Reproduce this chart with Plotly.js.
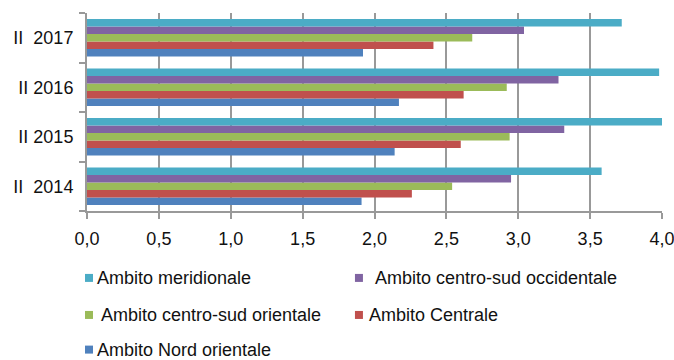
<!DOCTYPE html>
<html>
<head>
<meta charset="utf-8">
<script src="https://cdn.plot.ly/plotly-3.0.1.min.js"></script>
<style>
  html, body { margin: 0; padding: 0; background: #fff; }
  #chart { width: 674px; height: 360px; }
</style>
</head>
<body>
<div id="chart"></div>
<script>
// Categories (bottom to top)
const categories = ["II\u00a0\u00a02014", "II 2015", "II 2016", "II\u00a0\u00a02017"];

// Series values, per category (2014, 2015, 2016, 2017)
const nordOrientale     = [1.91, 2.14, 2.17, 1.92];
const centrale          = [2.26, 2.60, 2.62, 2.41];
const centroSudOrient   = [2.54, 2.94, 2.92, 2.68];
const centroSudOccid    = [2.95, 3.32, 3.28, 3.04];
const meridionale       = [3.58, 4.01, 3.98, 3.72];

// Series names
const seriesNames = [
  "Ambito meridionale",
  "Ambito centro-sud occidentale",
  "Ambito centro-sud orientale",
  "Ambito Centrale",
  "Ambito Nord orientale"
];

// X tick labels
const xTickVals = [0, 0.5, 1, 1.5, 2, 2.5, 3, 3.5, 4];
const xTickText = ["0,0", "0,5", "1,0", "1,5", "2,0", "2,5", "3,0", "3,5", "4,0"];

const seriesValues = [meridionale, centroSudOccid, centroSudOrient, centrale, nordOrientale];
const colors = ["#4BACC6", "#8064A2", "#9BBB59", "#C0504D", "#4F81BD"];

// Plot traces bottom-first so the first series sits on top of each group
const traces = [];
for (let i = seriesNames.length - 1; i >= 0; i--) {
  traces.push({
    type: "bar",
    orientation: "h",
    name: seriesNames[i],
    y: categories,
    x: seriesValues[i],
    marker: { color: colors[i], line: { width: 0 } },
    showlegend: false,
    hoverinfo: "x+name"
  });
}

// Manual legend layout (two columns, three rows)
const legendPos = [
  { sx: -0.0035, tx: 0.0139, y: -0.338 },
  { sx: 0.466,  tx: 0.497,  y: -0.338 },
  { sx: -0.0035, tx: 0.0209, y: -0.525 },
  { sx: 0.466,  tx: 0.487,  y: -0.525 },
  { sx: -0.0035, tx: 0.0139, y: -0.70 }
];
const shapes = [];
const annotations = [];
seriesNames.forEach((nm, i) => {
  const p = legendPos[i];
  shapes.push({
    type: "rect", xref: "paper", yref: "paper",
    x0: p.sx, x1: p.sx + 0.0139, y0: p.y - 0.0202, y1: p.y + 0.0202,
    fillcolor: colors[i], line: { width: 0 }
  });
  annotations.push({
    xref: "paper", yref: "paper", x: p.tx, y: p.y,
    xanchor: "left", yanchor: "middle", showarrow: false,
    text: nm, font: { size: 18, color: "#111" }
  });
});

const layout = {
  width: 674, height: 360,
  margin: { l: 87, r: 12, t: 13, b: 149 },
  paper_bgcolor: "#fff", plot_bgcolor: "#fff",
  font: { family: "Liberation Sans, Arial, sans-serif", size: 18, color: "#111" },
  barmode: "group",
  bargap: 0.245,
  bargroupgap: 0,
  showlegend: false,
  xaxis: {
    range: [0, 4],
    tickvals: xTickVals,
    ticktext: xTickText,
    showgrid: true, gridcolor: "#999", gridwidth: 2,
    zeroline: false,
    showline: true, linecolor: "#999", linewidth: 2,
    ticks: "outside", ticklen: 6, tickwidth: 2, tickcolor: "#999",
    ticklabelstandoff: 4,
    ticklabeloverflow: "allow",
    tickfont: { size: 18, color: "#111" },
    fixedrange: true
  },
  yaxis: {
    type: "category",
    showgrid: false,
    zeroline: false,
    showline: true, linecolor: "#999", linewidth: 2,
    ticks: "outside", tickson: "boundaries", ticklen: 6, tickwidth: 2, tickcolor: "#999",
    ticklabelstandoff: 8,
    tickfont: { size: 18, color: "#111" },
    fixedrange: true
  },
  shapes: shapes,
  annotations: annotations
};

Plotly.newPlot("chart", traces, layout, { displayModeBar: false, staticPlot: true });
</script>
</body>
</html>
